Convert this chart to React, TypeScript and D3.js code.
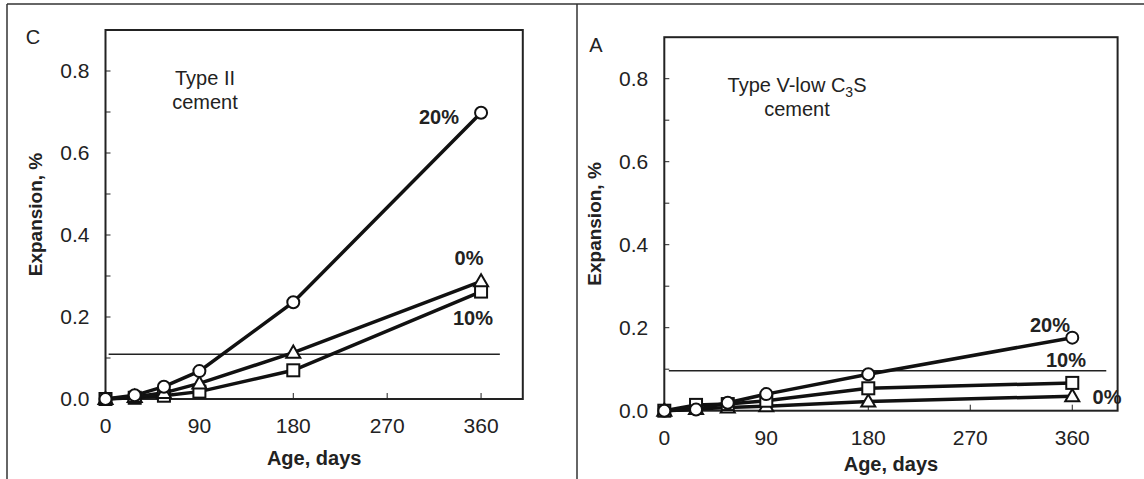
import * as d3 from 'd3'

// sampling ages (days)
const days = [0, 28, 56, 90, 180, 360]

// panel C - Type II cement
const typeII_0 = [0, 0.005, 0.015, 0.038, 0.113, 0.287]
const typeII_10 = [0, 0.003, 0.008, 0.018, 0.07, 0.262]
const typeII_20 = [0, 0.009, 0.03, 0.068, 0.236, 0.698]

// panel A - Type V-low C3S cement
const typeV_0 = [0, 0.004, 0.008, 0.011, 0.022, 0.035]
const typeV_10 = [0, 0.014, 0.016, 0.024, 0.054, 0.067]
const typeV_20 = [0, 0.003, 0.019, 0.04, 0.088, 0.176]

const xTicks = [0, 90, 180, 270, 360]
const yTicks = [0, 0.1, 0.2, 0.3, 0.4, 0.5, 0.6, 0.7, 0.8]
const yLabelTicks = [0, 0.2, 0.4, 0.6, 0.8]

const FONT = "'Liberation Sans', Arial, Helvetica, sans-serif"

type Series = { name: string; values: number[]; marker: 'circle' | 'square' | 'triangle'; label: [number, number] }

type PanelProps = {
  letter: string
  letterX: number
  letterY: number
  x0: number
  x1: number
  y0: number
  y1: number
  tickGap: number
  titleGap: number
  limit: number
  limitFrom: number
  limitTo: number
  series: Series[]
  title: React.ReactNode
  titleX: number
}

function Marker({ kind, cx, cy }: { kind: string; cx: number; cy: number }) {
  const st = { fill: '#fff', stroke: '#111', strokeWidth: 2 }
  if (kind === 'circle') return <circle cx={cx} cy={cy} r={6} {...st} />
  if (kind === 'square') return <rect x={cx - 6} y={cy - 6} width={12} height={12} {...st} />
  const tri = d3.symbol(d3.symbolTriangle, 85)()
  return <path d={tri || ''} transform={`translate(${cx},${cy + 1})`} {...st} />
}

function Panel(p: PanelProps) {
  const x = d3.scaleLinear().domain([0, 400]).range([p.x0, p.x1])
  const y = d3.scaleLinear().domain([0, 0.9]).range([p.y0, p.y1])
  const line = d3.line<number>().x((_, i) => x(days[i])).y(d => y(d))

  return (
    <g fontFamily={FONT} fill="#222">
      <text x={p.letterX} y={p.letterY} dy="0.35em" textAnchor="middle" fontSize={20}>{p.letter}</text>

      {/* frame */}
      <rect x={p.x0} y={p.y1} width={p.x1 - p.x0} height={p.y0 - p.y1} fill="none" stroke="#222" strokeWidth={2} />

      {/* inward ticks */}
      {yTicks.map(t => (
        <line key={'y' + t} x1={p.x0} x2={p.x0 + 5} y1={y(t)} y2={y(t)} stroke="#222" strokeWidth={1} />
      ))}
      {xTicks.map(t => (
        <line key={'x' + t} x1={x(t)} x2={x(t)} y1={p.y0} y2={p.y0 - 6} stroke="#222" strokeWidth={1} />
      ))}

      {yLabelTicks.map(t => (
        <text key={'yl' + t} x={p.x0 - 16} y={y(t)} dy="0.35em" textAnchor="end" fontSize={21}>
          {t.toFixed(1)}
        </text>
      ))}
      {xTicks.map(t => (
        <text key={'xl' + t} x={x(t)} y={p.y0 + p.tickGap} dy="0.35em" textAnchor="middle" fontSize={21}>
          {t}
        </text>
      ))}

      <text x={(p.x0 + p.x1) / 2} y={p.y0 + p.titleGap} dy="0.35em" textAnchor="middle" fontSize={20} fontWeight="bold">
        Age, days
      </text>
      <text
        transform={`translate(${p.x0 - 70},${(p.y0 + p.y1) / 2}) rotate(-90)`}
        dy="0.35em"
        textAnchor="middle"
        fontSize={19}
        fontWeight="bold"
      >
        Expansion, %
      </text>

      <text x={p.titleX} y={p.y1 + 48} dy="0.35em" textAnchor="middle" fontSize={20}>
        {p.title}
      </text>
      <text x={p.titleX} y={p.y1 + 72} dy="0.35em" textAnchor="middle" fontSize={20}>
        cement
      </text>

      {/* expansion limit */}
      <line x1={x(p.limitFrom)} x2={x(p.limitTo)} y1={y(p.limit)} y2={y(p.limit)} stroke="#222" strokeWidth={1.5} />

      {p.series.map(s => (
        <path key={'l' + s.name} d={line(s.values) || ''} fill="none" stroke="#111" strokeWidth={3.5} />
      ))}
      {p.series.map(s => (
        <g key={'m' + s.name}>
          {s.values.map((v, i) => (
            <Marker key={i} kind={s.marker} cx={x(days[i])} cy={y(v)} />
          ))}
        </g>
      ))}
      {p.series.map(s => (
        <text key={'t' + s.name} x={s.label[0]} y={s.label[1]} dy="0.35em" textAnchor="middle" fontSize={20} fontWeight="bold">
          {s.name}
        </text>
      ))}
    </g>
  )
}

export default function App() {
  return (
    <div style={{ position: 'absolute', left: 0, top: 0 }}>
      <svg width={1144} height={479} style={{ display: 'block', background: '#fff' }}>
        {/* table borders */}
        <line x1={7} x2={1144} y1={4} y2={4} stroke="#333" strokeWidth={1.5} />
        <line x1={7} x2={7} y1={4} y2={479} stroke="#333" strokeWidth={1.5} />
        <line x1={577} x2={577} y1={4} y2={479} stroke="#333" strokeWidth={1.5} />

        <Panel
          letter="C"
          letterX={33}
          letterY={37}
          x0={105.5}
          x1={522.8}
          y0={399}
          y1={30}
          tickGap={27}
          titleGap={59}
          limit={0.109}
          limitFrom={3}
          limitTo={378}
          titleX={205}
          title="Type II"
          series={[
            { name: '10%', values: typeII_10, marker: 'square', label: [473, 318] },
            { name: '0%', values: typeII_0, marker: 'triangle', label: [469, 258] },
            { name: '20%', values: typeII_20, marker: 'circle', label: [439, 117] },
          ]}
        />
        <Panel
          letter="A"
          letterX={596}
          letterY={45}
          x0={664.3}
          x1={1117.6}
          y0={410.7}
          y1={37.2}
          tickGap={27}
          titleGap={53}
          limit={0.096}
          limitFrom={4}
          limitTo={390}
          titleX={797}
          title={
            <>
              Type V-low C<tspan fontSize={14} dy="5">3</tspan>
              <tspan dy="-5">S</tspan>
            </>
          }
          series={[
            { name: '0%', values: typeV_0, marker: 'triangle', label: [1107, 397] },
            { name: '10%', values: typeV_10, marker: 'square', label: [1066, 360] },
            { name: '20%', values: typeV_20, marker: 'circle', label: [1050, 325] },
          ]}
        />
      </svg>
    </div>
  )
}
